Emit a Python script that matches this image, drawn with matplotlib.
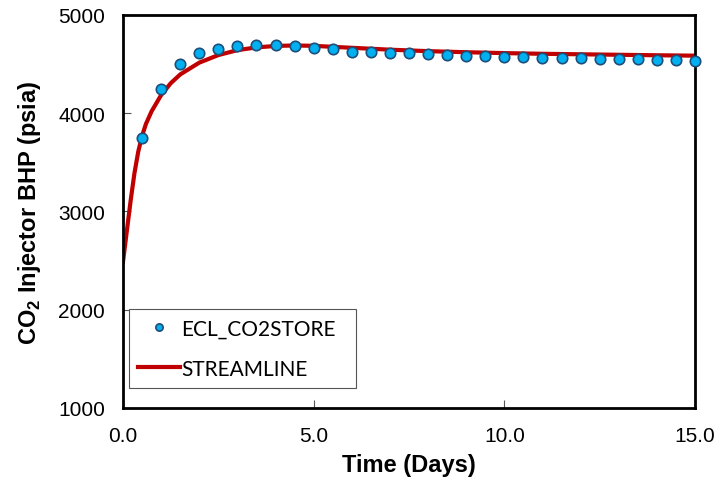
import matplotlib
matplotlib.use("Agg")
import matplotlib.pyplot as plt

# Data
ecl_time = [0.5, 1.0, 1.5, 2.0, 2.5, 3.0, 3.5, 4.0, 4.5, 5.0, 5.5, 6.0, 6.5, 7.0, 7.5,
            8.0, 8.5, 9.0, 9.5, 10.0, 10.5, 11.0, 11.5, 12.0, 12.5, 13.0, 13.5, 14.0, 14.5, 15.0]
ecl_bhp = [3750, 4250, 4500, 4612, 4655, 4684, 4695, 4695, 4683, 4663, 4651, 4628, 4620, 4616, 4610,
           4600, 4593, 4582, 4580, 4574, 4570, 4566, 4563, 4562, 4553, 4552, 4547, 4546, 4546, 4536]

sl_time = [0.0, 0.1, 0.2, 0.3, 0.4, 0.5, 0.6, 0.75, 1.0, 1.25, 1.5, 2.0, 2.5, 3.0, 3.5, 4.0,
           4.5, 5.0, 6.0, 7.0, 8.0, 9.0, 10.0, 11.0, 12.0, 13.0, 14.0, 15.0]
sl_bhp = [2490, 2800, 3110, 3390, 3610, 3770, 3890, 4020, 4185, 4305, 4395, 4515, 4592, 4642, 4670, 4685,
          4690, 4686, 4666, 4647, 4632, 4621, 4612, 4605, 4600, 4595, 4590, 4586]

plt.rcParams['font.family'] = ['Liberation Sans', 'DejaVu Sans']
plt.rcParams['mathtext.fontset'] = 'custom'
plt.rcParams['mathtext.rm'] = 'Liberation Sans'
plt.rcParams['mathtext.bf'] = 'Liberation Sans:bold'

fig = plt.figure(figsize=(7.16, 4.89), dpi=100)
ax = fig.add_axes([0.1718, 0.1636, 0.7989, 0.8037])

ax.plot(sl_time, sl_bhp, color='#C00000', lw=3.0, label='STREAMLINE', zorder=2)
ax.plot(ecl_time, ecl_bhp, linestyle='none', marker='o', markersize=7.5,
        markerfacecolor='#00B0F0', markeredgecolor='#1F4E79', markeredgewidth=1.2,
        label='ECL_CO2STORE', zorder=3, clip_on=False)

ax.set_xlim(0, 15)
ax.set_ylim(1000, 5000)
ax.set_xticks([0, 5, 10, 15])
ax.set_xticklabels(['0.0', '5.0', '10.0', '15.0'])
ax.set_yticks([1000, 2000, 3000, 4000, 5000])
ax.tick_params(direction='in', length=6, width=0.8, labelsize=15, color='#555555')
ax.tick_params(axis='x', pad=13)
ax.tick_params(axis='y', pad=13)
for s in ax.spines.values():
    s.set_linewidth(2.0)
    s.set_color('black')

ax.set_xlabel('Time (Days)', fontsize=17, fontweight='bold', labelpad=6)
ax.set_ylabel(r'CO$_{\mathbf{2}}$ Injector BHP (psia)', fontsize=17, fontweight='bold', labelpad=11)

handles, labels = ax.get_legend_handles_labels()
leg = ax.legend(handles[::-1], labels[::-1], loc='lower left', bbox_to_anchor=(0.0105, 0.051, 0.3975, 0.203),
                mode='expand', fancybox=False, edgecolor='#555555', framealpha=1,
                markerscale=0.7, handlelength=2.0, handletextpad=0.05, borderaxespad=0,
                borderpad=0.45, labelspacing=0.95, prop={'family': 'Lato', 'size': 15})
leg.get_frame().set_linewidth(0.8)

fig.savefig('out.png', dpi=100)
